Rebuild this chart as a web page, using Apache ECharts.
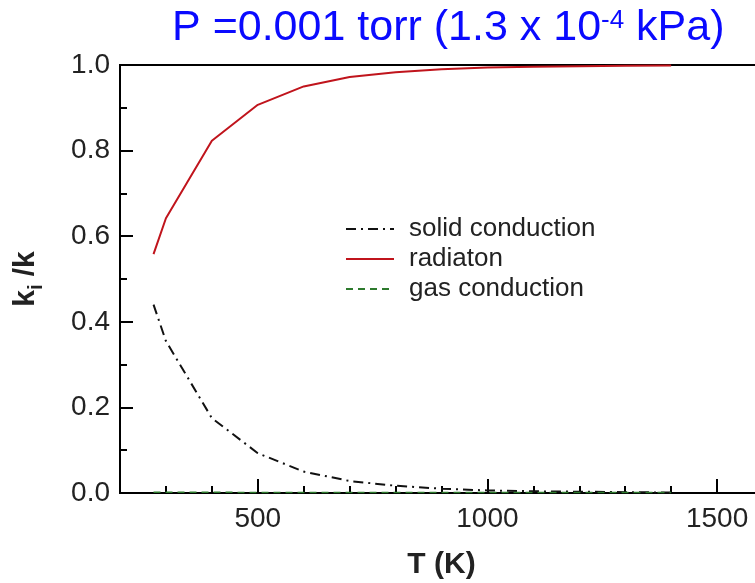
<!DOCTYPE html>
<html>
<head>
<meta charset="utf-8">
<script src="https://cdn.jsdelivr.net/npm/echarts@6/dist/echarts.min.js"></script>
<style>html,body{margin:0;padding:0;background:#fff}#c{width:755px;height:583px}</style>
</head>
<body>
<div id="c"></div>
<script>
var temps = [273, 300, 400, 500, 600, 700, 800, 900, 1000, 1100, 1200, 1300, 1400];
var solidConduction = [0.44, 0.355, 0.175, 0.093, 0.05, 0.028, 0.017, 0.010, 0.006, 0.004, 0.003, 0.002, 0.001];
var radiation = [0.558, 0.642, 0.823, 0.907, 0.950, 0.972, 0.983, 0.990, 0.994, 0.996, 0.997, 0.998, 0.999];
var gasConduction = [0.002, 0.002, 0.002, 0.001, 0.001, 0.001, 0.001, 0.001, 0.001, 0.001, 0.001, 0.001, 0.001];
var xMajorTicks = [500, 1000, 1500];
var seriesNames = ['solid conduction', 'radiaton', 'gas conduction'];

function pairs(ys) { return temps.map(function (t, i) { return [t, ys[i]]; }); }

var FONT = 'Liberation Sans';
var chart = echarts.init(document.getElementById('c'));
chart.setOption({
  animation: false,
  title: {
    text: '{a|P =0.001 torr (1.3 x 10}{s|-4}{a| kPa)}',
    left: 167, top: 1,
    textStyle: {
      fontWeight: 'normal',
      rich: {
        a: { fontFamily: FONT, fontSize: 43, fontWeight: 'normal', color: '#0a0aff', lineHeight: 44, verticalAlign: 'bottom' },
        s: { fontFamily: FONT, fontSize: 26, fontWeight: 'normal', color: '#0a0aff', lineHeight: 44, verticalAlign: 'top', padding: [2, 0, 0, 0] }
      }
    }
  },
  grid: { left: 120, top: 65, right: -8, bottom: 90, outerBoundsMode: 'none', containLabel: false, show: true, borderColor: '#000', borderWidth: 2, backgroundColor: 'transparent' },
  legend: {
    orient: 'vertical', left: 345, top: 216, padding: 0, itemGap: 4,
    itemWidth: 48, itemHeight: 14,
    data: seriesNames,
    itemStyle: { opacity: 0 },
    textStyle: { fontFamily: FONT, fontSize: 26, color: '#222', padding: [0, 0, 0, 10] }
  },
  xAxis: [{
    type: 'value', min: 200, max: 1600, interval: 100,
    name: 'T (K)', nameLocation: 'middle', nameGap: 57,
    nameTextStyle: { fontFamily: FONT, fontSize: 30, fontWeight: 'bold', color: '#222' },
    axisLine: { show: true, lineStyle: { color: '#000', width: 2 } },
    axisTick: { show: true, inside: true, length: 7, lineStyle: { color: '#000', width: 2 } },
    axisLabel: {
      fontFamily: FONT, fontSize: 28, color: '#222', margin: 12,
      formatter: function (v) { return xMajorTicks.indexOf(v) >= 0 ? String(v) : ''; }
    },
    splitLine: { show: false }
  }, {
    type: 'value', min: 200, max: 1600, position: 'bottom', gridIndex: 0,
    axisLine: { show: false },
    axisTick: { show: true, inside: true, length: 14, customValues: xMajorTicks, lineStyle: { color: '#000', width: 2 } },
    axisLabel: { show: false },
    splitLine: { show: false }
  }],
  yAxis: {
    type: 'value', min: 0, max: 1, interval: 0.2,
    name: '{a|k}{b|i}{a| /k}', nameLocation: 'middle', nameGap: 74,
    nameTextStyle: {
      rich: {
        a: { fontFamily: FONT, fontSize: 30, fontWeight: 'bold', color: '#222', lineHeight: 40, verticalAlign: 'middle' },
        b: { fontFamily: FONT, fontSize: 20, fontWeight: 'bold', color: '#222', lineHeight: 40, verticalAlign: 'bottom' }
      }
    },
    axisLine: { show: true, lineStyle: { color: '#000', width: 2 } },
    axisTick: { show: true, inside: true, length: 13, lineStyle: { color: '#000', width: 2 } },
    minorTick: { show: true, splitNumber: 2, length: 7, lineStyle: { color: '#000', width: 2 } },
    axisLabel: { fontFamily: FONT, fontSize: 28, color: '#222', margin: 10, formatter: function (v) { return v.toFixed(1); } },
    splitLine: { show: false }
  },
  series: [{
    name: seriesNames[0], type: 'line', data: pairs(solidConduction), symbol: 'none',
    lineStyle: { color: '#111', width: 2, type: [10, 5, 2, 5] }, itemStyle: { color: '#111' }
  }, {
    name: seriesNames[1], type: 'line', data: pairs(radiation), symbol: 'none',
    lineStyle: { color: '#c0141c', width: 2 }, itemStyle: { color: '#c0141c' }
  }, {
    name: seriesNames[2], type: 'line', data: pairs(gasConduction), symbol: 'none',
    lineStyle: { color: '#2d7a2d', width: 1.5, type: [7, 5] }, itemStyle: { color: '#2d7a2d' }
  }]
});
</script>
</body>
</html>
